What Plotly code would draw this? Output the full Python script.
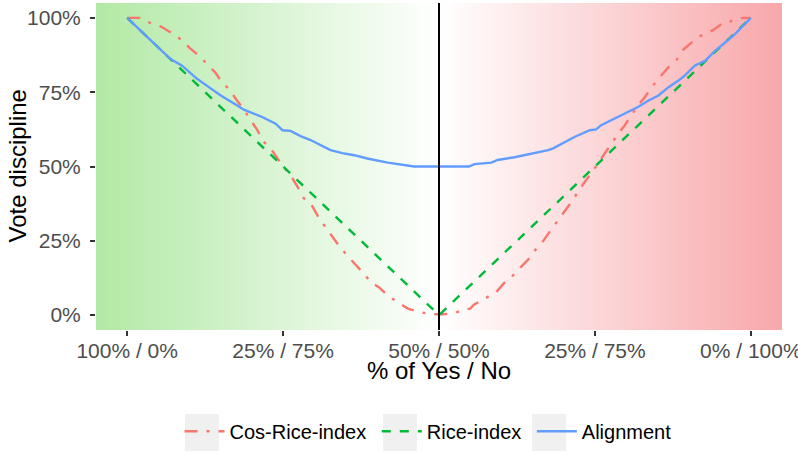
import numpy as np
import plotly.graph_objects as go

# ---- data ----
cos_x = [0.00, 0.02, 0.04, 0.055, 0.072, 0.088, 0.10, 0.115, 0.128, 0.141, 0.152, 0.165,
         0.176, 0.186, 0.198, 0.208, 0.219, 0.23, 0.241, 0.253, 0.265, 0.274, 0.283, 0.297,
         0.306, 0.317, 0.329, 0.34, 0.353, 0.364, 0.377, 0.391, 0.404, 0.418, 0.436, 0.45,
         0.468, 0.487, 0.506, 0.524, 0.541, 0.55, 0.556, 0.574, 0.592, 0.605, 0.617, 0.632,
         0.643, 0.655, 0.667, 0.68, 0.69, 0.70, 0.711, 0.722, 0.734, 0.744, 0.755, 0.766,
         0.776, 0.787, 0.798, 0.809, 0.819, 0.83, 0.842, 0.854, 0.868, 0.881, 0.89, 0.905,
         0.916, 0.938, 0.953, 0.962, 0.969, 0.988, 1.0]
cos_y = [1.00, 1.00, 0.98, 0.97, 0.948, 0.925, 0.899, 0.873, 0.845, 0.817, 0.784, 0.756,
         0.722, 0.695, 0.656, 0.625, 0.583, 0.561, 0.527, 0.494, 0.46, 0.429, 0.394, 0.366,
         0.332, 0.299, 0.265, 0.232, 0.20, 0.176, 0.145, 0.111, 0.093, 0.065, 0.042, 0.022,
         0.011, 0.003, 0.003, 0.006, 0.02, 0.022, 0.035, 0.056, 0.078, 0.109, 0.13, 0.163,
         0.187, 0.221, 0.249, 0.288, 0.315, 0.345, 0.377, 0.412, 0.449, 0.477, 0.511, 0.544,
         0.572, 0.609, 0.639, 0.672, 0.706, 0.733, 0.769, 0.80, 0.834, 0.858, 0.89, 0.917,
         0.936, 0.957, 0.979, 0.98, 0.99, 1.0, 1.0]

rice_x = [0.0, 0.25, 0.5, 0.75, 1.0]
rice_y = [1.0, 0.5, 0.0, 0.5, 1.0]

align_x = [0.0, 0.021, 0.05, 0.069, 0.088, 0.112, 0.131, 0.15, 0.176, 0.187, 0.214, 0.238,
           0.249, 0.262, 0.278, 0.294, 0.326, 0.345, 0.364, 0.385, 0.418, 0.444, 0.46, 0.548,
           0.557, 0.584, 0.594, 0.621, 0.637, 0.659, 0.675, 0.683, 0.70, 0.718, 0.742, 0.752,
           0.76, 0.79, 0.819, 0.836, 0.852, 0.868, 0.884, 0.894, 0.91, 0.927, 0.943, 0.956,
           0.975, 1.0]
align_y = [1.0, 0.957, 0.899, 0.862, 0.839, 0.795, 0.767, 0.739, 0.706, 0.691, 0.669, 0.644,
           0.622, 0.62, 0.602, 0.589, 0.555, 0.545, 0.538, 0.527, 0.513, 0.505, 0.50, 0.50,
           0.508, 0.513, 0.522, 0.531, 0.538, 0.549, 0.555, 0.561, 0.58, 0.60, 0.622, 0.625,
           0.639, 0.67, 0.70, 0.722, 0.739, 0.767, 0.789, 0.806, 0.839, 0.856, 0.89, 0.912,
           0.946, 1.0]

series_names = ["Cos-Rice-index", "Rice-index", "Alignment"]
x_tickvals = [0, 0.25, 0.5, 0.75, 1.0]
x_ticktext = ["100% / 0%", "25% / 75%", "50% / 50%", "25% / 75%", "0% / 100%"]
y_tickvals = [0, 0.25, 0.5, 0.75, 1.0]
y_ticktext = ["0%", "25%", "50%", "75%", "100%"]
x_title = "% of Yes / No"
y_title = "Vote discipline"

# background gradient (green -> white -> red)
bg_x = np.linspace(-0.05, 1.05, 111)
bg_y = [-0.05, 1.05]
bg_z = [list(bg_x), list(bg_x)]

FONT = "Liberation Sans, Arial, sans-serif"
NB = "\u00a0"

fig = go.Figure()
fig.add_trace(go.Heatmap(
    x=bg_x, y=bg_y, z=bg_z, zsmooth="best", showscale=False, hoverinfo="skip",
    colorscale=[[0, "#b2e9a5"], [0.5, "#ffffff"], [1, "#f8a7aa"]],
    zmin=-0.05, zmax=1.05, showlegend=False))

fig.add_trace(go.Scatter(x=cos_x, y=cos_y, mode="lines", name=series_names[0] + NB,
                         line=dict(color="#F8766D", width=2.4, dash="13px,9px,3px,9px")))
fig.add_trace(go.Scatter(x=rice_x, y=rice_y, mode="lines", name=series_names[1] + NB,
                         line=dict(color="#00BA38", width=2.4, dash="9px,9px")))
fig.add_trace(go.Scatter(x=align_x, y=align_y, mode="lines", name=series_names[2],
                         line=dict(color="#619CFF", width=2.4)))

fig.add_shape(type="line", xref="x", yref="paper", x0=0.5, x1=0.5, y0=0, y1=1,
              line=dict(color="black", width=2))

# legend key backgrounds (ggplot-style grey boxes), in paper coordinates
PL, PW, PB, PH = 96, 686, 330, 327
for bx0 in [185, 383, 532]:
    fig.add_shape(type="rect", xref="paper", yref="paper", layer="above",
                  x0=(bx0 - PL) / PW, x1=(bx0 + 34 - PL) / PW,
                  y0=(PB - 451) / PH, y1=(PB - 414) / PH,
                  fillcolor="#f0f0f0", line=dict(width=0))

fig.add_annotation(text=x_title, xref="paper", yref="paper", x=0.5, y=(PB - 370) / PH,
                   xanchor="center", yanchor="middle", showarrow=False,
                   font=dict(size=24, color="black", family=FONT))
fig.add_annotation(text=y_title, xref="paper", yref="paper", x=(17 - PL) / PW, y=0.5,
                   xanchor="center", yanchor="middle", showarrow=False, textangle=-90,
                   font=dict(size=24, color="black", family=FONT))

fig.update_layout(
    width=798, height=452,
    margin=dict(l=96, r=16, t=3, b=122, autoexpand=False),
    paper_bgcolor="white", plot_bgcolor="white",
    font=dict(family=FONT, size=20, color="#4d4d4d"),
    xaxis=dict(range=[-0.05, 1.05], tickvals=x_tickvals, ticktext=x_ticktext,
               ticks="outside", ticklen=5, tickwidth=1.8, tickcolor="#333333",
               showgrid=False, zeroline=False, showline=False, automargin=False,
               ticklabeloverflow="allow", ticklabelstandoff=-3,
               tickfont=dict(size=21, color="#4d4d4d")),
    yaxis=dict(range=[-0.05, 1.05], tickvals=y_tickvals, ticktext=y_ticktext,
               ticks="outside", ticklen=5, tickwidth=1.8, tickcolor="#333333",
               showgrid=False, zeroline=False, showline=False, automargin=False,
               ticklabelstandoff=5,
               tickfont=dict(size=21, color="#4d4d4d")),
    legend=dict(orientation="h", x=0.484, xanchor="center", y=-0.25, yanchor="top",
                font=dict(size=20, color="black"), itemwidth=40,
                bgcolor="rgba(0,0,0,0)"),
)

fig.write_html("out.html", config={"displayModeBar": False},
               post_script="document.body.style.margin='0px';")
